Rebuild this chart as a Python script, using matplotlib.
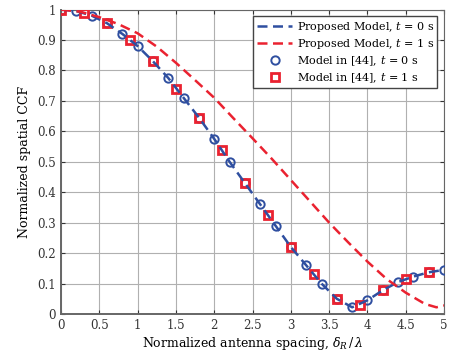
import matplotlib
matplotlib.use("Agg")
import matplotlib.pyplot as plt
import numpy as np

plt.rcParams['font.family'] = ['DejaVu Serif']
plt.rcParams['mathtext.fontset'] = 'dejavuserif'

# model in [44], t = 0 s (circles) -- also the proposed model at t = 0 s
x_t0 = [0, 0.2, 0.4, 0.6, 0.8, 1.0, 1.2, 1.4, 1.6, 1.8, 2.0, 2.2, 2.4,
        2.6, 2.8, 3.0, 3.2, 3.4, 3.6, 3.8, 4.0, 4.2, 4.4, 4.6, 4.8, 5.0]
ccf_t0 = [1.0, 0.995, 0.98, 0.955, 0.92, 0.88, 0.83, 0.775, 0.71, 0.645,
          0.575, 0.50, 0.43, 0.36, 0.29, 0.22, 0.16, 0.10, 0.05, 0.022,
          0.045, 0.078, 0.105, 0.123, 0.137, 0.145]

# model in [44], t = 1 s (squares)
x_t1 = [0, 0.3, 0.6, 0.9, 1.2, 1.5, 1.8, 2.1, 2.4, 2.7, 3.0, 3.3, 3.6,
        3.9, 4.2, 4.5, 4.8]
ccf_t1 = [1.0, 0.99, 0.955, 0.90, 0.83, 0.74, 0.645, 0.54, 0.43, 0.325,
          0.22, 0.13, 0.05, 0.03, 0.078, 0.115, 0.137]

# proposed model, t = 1 s
x_prop1 = [0, 0.25, 0.5, 0.75, 1.0, 1.25, 1.5, 1.75, 2.0, 2.25, 2.5, 2.75,
           3.0, 3.25, 3.5, 3.75, 4.0, 4.25, 4.5, 4.75, 4.9, 5.0]
ccf_prop1 = [1.0, 0.993, 0.975, 0.952, 0.922, 0.878, 0.825, 0.768, 0.71,
             0.643, 0.577, 0.51, 0.44, 0.37, 0.30, 0.235, 0.172, 0.115,
             0.07, 0.033, 0.022, 0.028]

blue = '#2f4fa0'
red = '#ea2230'

fig = plt.figure(figsize=(4.49, 3.54), dpi=100)
ax = fig.add_axes([0.136, 0.113, 0.853, 0.86])

ax.plot(x_t0, ccf_t0, '--', color=blue, lw=1.8, dashes=(4, 2.2),
        label='Proposed Model, $t$ = 0 s', zorder=6)
ax.plot(x_prop1, ccf_prop1, '--', color=red, lw=1.8, dashes=(4, 2.2),
        label='Proposed Model, $t$ = 1 s', zorder=6)
ax.plot(x_t0, ccf_t0, 'o', color=blue, mfc='none', ms=6, mew=1.4,
        label='Model in [44], $t$ = 0 s', zorder=4)
ax.plot(x_t1, ccf_t1, 's', color=red, mfc='none', ms=5.2, mew=2.0,
        label='Model in [44], $t$ = 1 s', zorder=5)

ax.set_xlim(0, 5)
ax.set_ylim(0, 1)
ax.set_xticks(np.arange(0, 5.01, 0.5))
ax.set_xticklabels(['0', '0.5', '1', '1.5', '2', '2.5', '3', '3.5', '4', '4.5', '5'])
ax.set_yticks(np.arange(0, 1.01, 0.1))
ax.set_yticklabels(['0', '0.1', '0.2', '0.3', '0.4', '0.5', '0.6', '0.7', '0.8', '0.9', '1'])
ax.grid(True, color='#b0b0b0', lw=0.8)
ax.tick_params(labelsize=8.5, direction='in', length=3, colors='#333333',
               right=True, top=True)
for s in ax.spines.values():
    s.set_color('#666666')
ax.spines['left'].set_linewidth(1.4)
ax.spines['bottom'].set_linewidth(1.4)

ax.set_xlabel('Normalized antenna spacing, $\\delta_R\\,/\\,\\lambda$', fontsize=9, labelpad=2)
ax.set_ylabel('Normalized spatial CCF', fontsize=9, labelpad=5)

leg = ax.legend(loc='upper right', fontsize=8, fancybox=False, framealpha=1,
                edgecolor='#444444', borderaxespad=0.6, handlelength=3.2,
                labelspacing=0.3, borderpad=0.3, handletextpad=0.4)
leg.get_frame().set_linewidth(1.0)

fig.savefig('out.png', dpi=100)
